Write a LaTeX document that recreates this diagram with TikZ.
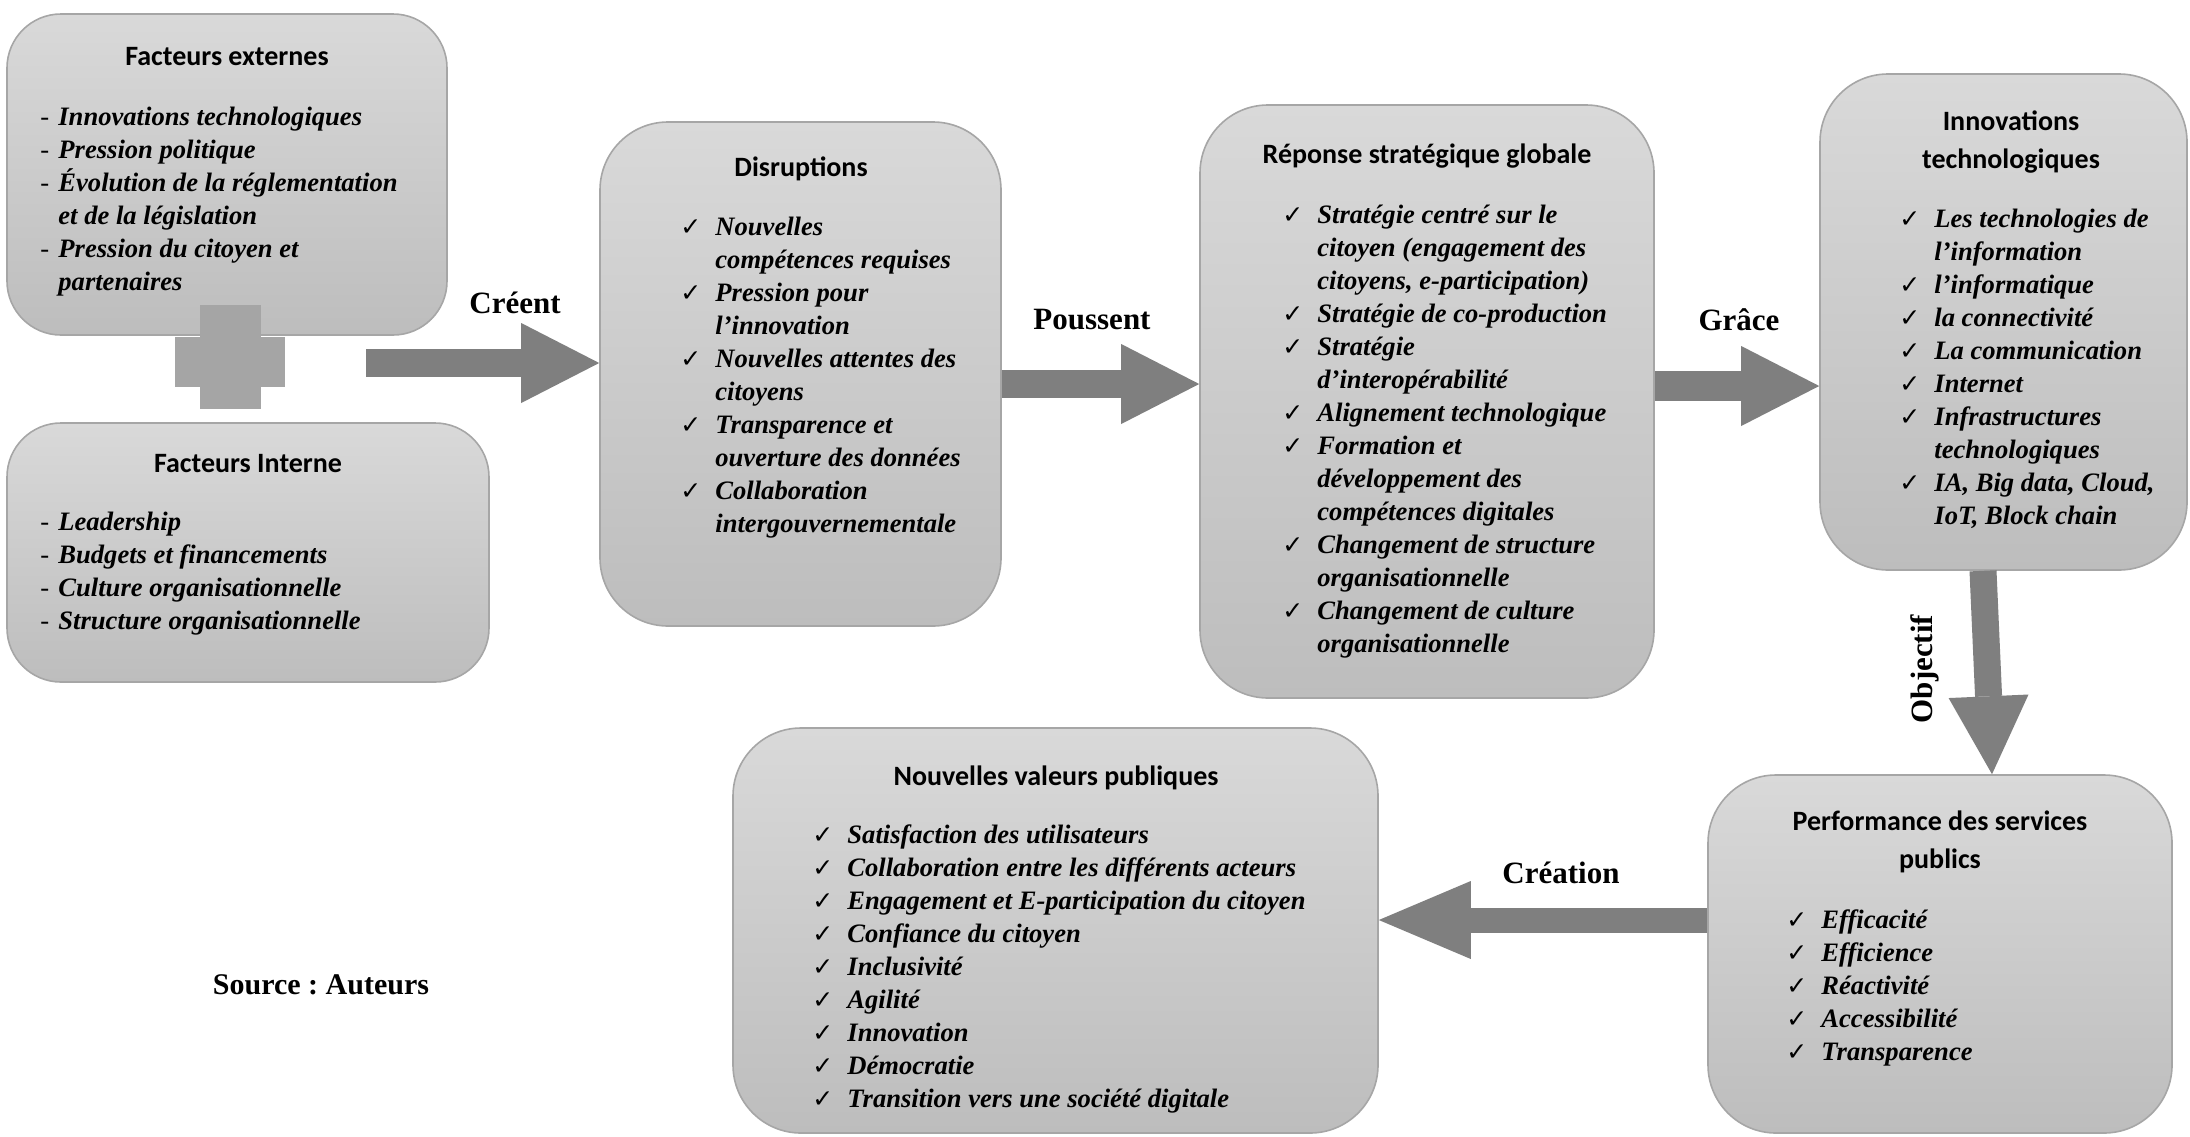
\documentclass[tikz,border=0pt]{standalone}
\usepackage{fontspec}
\setmainfont{Liberation Serif}
\newfontfamily\titlefont{Carlito}
\newfontfamily\symfont{DejaVu Sans}
\usetikzlibrary{arrows.meta,calc}
\frenchspacing
\definecolor{arrowgray}{HTML}{7F7F7F}
\definecolor{boxtop}{HTML}{D9D9D9}
\definecolor{boxbot}{HTML}{BDBDBD}
\definecolor{boxline}{HTML}{A6A6A6}
\definecolor{plusgray}{HTML}{A5A5A5}
\newcommand{\ck}{\makebox[17.5pt][l]{\symfont\mdseries\upshape\fontsize{12.5}{12.5}\selectfont ✓}}
\newcommand{\cn}{\hspace*{17.5pt}}
\newcommand{\dsh}{\makebox[9pt][l]{\mdseries\upshape -}}
\newcommand{\dn}{\hspace*{9pt}}
\begin{document}
\begin{tikzpicture}[x=0.5pt,y=-0.5pt,
  box/.style={shape=rectangle, rounded corners=30pt, draw=boxline, line width=0.8pt,
    top color=boxtop, bottom color=boxbot, inner sep=0pt},
  titletext/.style={font=\titlefont\bfseries\fontsize{14}{19}\selectfont, inner sep=0pt, align=center},
  itemlist/.style={anchor=north west, inner sep=0pt, align=left,
    font=\fontsize{13.3}{16.5}\selectfont\bfseries\itshape},
  lbl/.style={font=\bfseries\fontsize{15.5}{18}\selectfont, inner sep=0pt},
  bigarrow/.style={draw=arrowgray, line width=14pt,
    -{Triangle[length=39pt,width=40pt,line width=0pt]}}
]
\useasboundingbox (0,0) rectangle (2190,1136);
\fill[white] (0,0) rectangle (2190,1136);

% boxes
\node[box, rounded corners=27pt, minimum width=220pt, minimum height=160.5pt] (fe) at (227,174.5) {};
\node[box, rounded corners=27pt, minimum width=241pt, minimum height=129.5pt] (fi) at (248,552.5) {};
\node[box, rounded corners=34pt, minimum width=200.5pt, minimum height=252pt] (dis) at (800.5,374) {};
\node[box, rounded corners=34pt, minimum width=227pt, minimum height=296.5pt] (rep) at (1427,401.5) {};
\node[box, rounded corners=34pt, minimum width=183.5pt, minimum height=248pt] (inn) at (2003.5,322) {};
\node[box, rounded corners=34pt, minimum width=232pt, minimum height=179pt] (perf) at (1940,954) {};
\node[box, rounded corners=34pt, minimum width=322.5pt, minimum height=202.5pt] (nv) at (1055.5,930.5) {};

% plus sign
\fill[plusgray] (200,305) rectangle (261,409);
\fill[plusgray] (175,337) rectangle (285,387);

% titles
\node[titletext] (fe-t) at (227,57) {Facteurs externes};
\node[titletext] (fi-t) at (248,464) {Facteurs Interne};
\node[titletext] (dis-t) at (801,169) {Disruptions};
\node[titletext] (rep-t) at (1427,156) {Réponse stratégique globale};
\node[titletext] (inn-t) at (2011,142) {Innovations\\technologiques};
\node[titletext] (perf-t) at (1940,842) {Performance des services\\publics};
\node[titletext] (nv-t) at (1056,778) {Nouvelles valeurs publiques};

% lists
\node[itemlist] (fe-l) at (40,102) {\strut\dsh Innovations technologiques\\
\dsh Pression politique\\
\dsh Évolution de la réglementation\\
\dn et de la législation\\
\dsh Pression du citoyen et\\
\dn partenaires};

\node[itemlist] (fi-l) at (40,507) {\strut\dsh Leadership\\
\dsh Budgets et financements\\
\dsh Culture organisationnelle\\
\dsh Structure organisationnelle};

\node[itemlist] (dis-l) at (680,212) {\strut\ck Nouvelles\\
\cn compétences requises\\
\ck Pression pour\\
\cn l’innovation\\
\ck Nouvelles attentes des\\
\cn citoyens\\
\ck Transparence et\\
\cn ouverture des données\\
\ck Collaboration\\
\cn intergouvernementale};

\node[itemlist] (rep-l) at (1282,200) {\strut\ck Stratégie centré sur le\\
\cn citoyen (engagement des\\
\cn citoyens, e-participation)\\
\ck Stratégie de co-production\\
\ck Stratégie\\
\cn d’interopérabilité\\
\ck Alignement technologique\\
\ck Formation et\\
\cn développement des\\
\cn compétences digitales\\
\ck Changement de structure\\
\cn organisationnelle\\
\ck Changement de culture\\
\cn organisationnelle};

\node[itemlist] (inn-l) at (1899,204) {\strut\ck Les technologies de\\
\cn l’information\\
\ck l’informatique\\
\ck la connectivité\\
\ck La communication\\
\ck Internet\\
\ck Infrastructures\\
\cn technologiques\\
\ck IA, Big data, Cloud,\\
\cn IoT, Block chain};

\node[itemlist] (perf-l) at (1786,905) {\strut\ck Efficacité\\
\ck Efficience\\
\ck Réactivité\\
\ck Accessibilité\\
\ck Transparence};

\node[itemlist] (nv-l) at (812,820) {\strut\ck Satisfaction des utilisateurs\\
\ck Collaboration entre les différents acteurs\\
\ck Engagement et E-participation du citoyen\\
\ck Confiance du citoyen\\
\ck Inclusivité\\
\ck Agilité\\
\ck Innovation\\
\ck Démocratie\\
\ck Transition vers une société digitale};

% connectors
\coordinate (cs) at (366,363);
\coordinate (py) at (0,384);
\coordinate (gy) at (0,386);
\coordinate (ox1) at (1983,0);
\coordinate (ox2) at (1992,0);
\coordinate (cy) at (0,920);
\draw[bigarrow] (cs) -- (cs -| dis.west);
\draw[bigarrow] (dis.east |- py) -- (rep.west |- py);
\draw[bigarrow, line width=15pt] (rep.east |- gy) -- (inn.west |- gy);
\draw[bigarrow, line width=13.5pt] (inn.south -| ox1) -- (perf.north -| ox2);
\draw[bigarrow, line width=12.5pt, -{Triangle[length=46pt,width=39pt,line width=0pt]}] (perf.west |- cy) -- (nv.east |- cy);

% labels
\node[lbl] (l-creent) at (515,303) {Créent};
\node[lbl] (l-pous) at (1092,320) {Poussent};
\node[lbl] (l-grace) at (1739,320) {Grâce};
\node[lbl] (l-crea) at (1561,873) {Création};
\node[lbl, rotate=90] (l-obj) at (1925,669) {Objectif};
\node[lbl, font=\bfseries\fontsize{15}{18}\selectfont] (src) at (321,985) {Source : Auteurs};
\end{tikzpicture}
\end{document}
